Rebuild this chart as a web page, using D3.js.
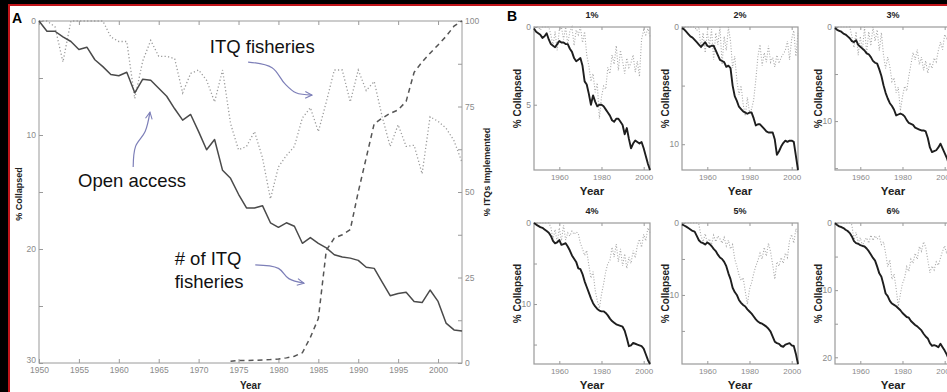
<!DOCTYPE html>
<html>
<head>
<meta charset="utf-8">
<script src="https://cdn.jsdelivr.net/npm/d3@7/dist/d3.min.js"></script>
<style>
  body { margin: 0; background: #000; }
  svg { display: block; font-family: "Liberation Sans", Arial, sans-serif; }
</style>
</head>
<body>
<svg id="chart" width="947" height="392"></svg>
<script>
// ---- panel A data (1950-2003) ----
const yearsA = d3.range(1950, 2004);
const openAccess = [
  0, 0.9, 0.9, 1.4, 1.8, 2.5, 2.3, 3.4, 4.0, 4.7,
  4.8, 4.5, 6.3, 5.1, 5.2, 5.9, 6.6, 7.7, 8.7, 8.2,
  9.7, 11.3, 10.4, 13.1, 13.8, 15.2, 16.4, 16.4, 16.2, 17.7,
  18.1, 17.7, 18.0, 19.5, 19.0, 19.5, 19.9, 20.5, 20.7, 20.8,
  21.0, 21.6, 21.7, 22.9, 24.1, 23.9, 23.8, 24.6, 24.7, 23.6,
  24.6, 26.5, 27.1, 27.2
];
const itqCollapsed = [
  0, 0, 0.5, 3.6, 0, 0, 0, 0, 0, 1.4,
  1.8, 1.8, 6.8, 3.5, 1.7, 3.1, 3.1, 3.3, 6.3, 4.6,
  4.3, 5.2, 7.1, 4.3, 9.0, 11.3, 11.0, 9.7, 12.0, 15.6,
  12.8, 11.8, 11.0, 8.5, 7.6, 9.7, 7.1, 4.3, 4.3, 7.1,
  4.3, 6.1, 5.3, 8.4, 11.0, 9.1, 11.0, 10.9, 13.4, 8.4,
  8.8, 9.4, 10.5, 12.4
];
// % of ITQs implemented, 1974-2003
const itqYears = d3.range(1974, 2004);
const itqImplemented = [
  0.5, 0.7, 0.7, 0.8, 0.9, 1.0, 1.2, 1.5, 2.0, 3.0,
  7.5, 13, 33, 36.5, 37.5, 39, 50, 60, 70, 71.6,
  73, 74, 76.5, 85, 88, 90.6, 93, 95.5, 98.5, 100
];

// ---- panel B data (1948-2003) ----
const yearsB = d3.range(1948, 2004);
const titlesB = ['1%', '2%', '3%', '4%', '5%', '6%'];
const solid1 = [
  0.1, 0.3, 0.4, 0.5, 0.7, 0.6, 0.4, 0.8, 1.1, 1.2,
  1.3, 1.1, 0.9, 1.0, 1.0, 1.1, 1.1, 1.4, 1.6, 2.0,
  2.2, 2.1, 2.0, 2.5, 3.5, 3.7, 4.3, 5.0, 4.4, 4.8,
  5.1, 5.0, 5.0, 5.1, 5.3, 5.5, 5.7, 6.0, 6.1, 5.9,
  5.9, 6.1, 6.3, 6.9, 6.5, 7.2, 7.8, 7.5, 7.3, 7.4,
  7.5, 7.4, 7.8, 8.3, 8.8, 9.2
];
const dotted1 = [
  0, 0, 0, 0.2, 0, 0, 0, 0, 0.5, 1.2,
  0.3, 1.5, 0.2, 0, 0.8, 0, 1.1, 0.3, 0, 1.2,
  0.2, 0.5, 0, 1.0, 0.3, 1.8, 2.5, 3.5, 3.0, 4.2,
  3.6, 5.9, 4.5, 3.8, 4.0, 2.6, 3.0, 1.8, 2.4, 1.2,
  2.8, 1.5, 2.2, 3.0, 2.0, 2.6, 2.3, 1.8, 2.9, 2.2,
  3.2, 0.8, 0.2, 0.5, 0.1, 0.6
];
const solid2 = [
  0.1, 0.2, 0.4, 0.6, 0.8, 0.9, 1.1, 1.3, 1.5, 1.7,
  1.5, 1.3, 1.6, 1.7, 1.6, 1.6, 2.0, 2.4, 2.8, 2.9,
  3.0, 3.4, 3.3, 3.5, 5.0, 5.9, 6.3, 6.8, 7.0, 7.2,
  7.3, 7.4, 7.3, 7.3, 7.8, 8.4, 8.3, 8.3, 8.5, 8.7,
  8.9, 9.0, 9.0, 9.0, 9.6, 10.9, 10.6, 10.2, 9.9, 9.7,
  9.8, 9.7, 9.7, 9.8, 11.0, 12.2
];
const dotted2 = [
  0, 0, 0, 0, 0, 0, 0, 0.3, 0, 1.8,
  0.5, 2.2, 0.4, 1.6, 0.2, 2.8, 0.5, 1.5, 0, 3.2,
  0.8, 2.0, 0, 1.2, 3.5, 2.5, 4.5, 5.8, 5.0, 6.6,
  7.6, 6.0, 7.3, 7.0, 6.2, 4.5, 2.5, 1.5, 3.3, 2.2,
  3.0, 1.6, 3.0, 2.6, 3.4, 2.4, 3.1, 2.6, 2.3, 2.0,
  1.2, 2.8, 1.0, 0.3, 2.5, 0.5
];
const solid3 = [
  0.1, 0.3, 0.4, 0.5, 0.7, 0.8, 1.0, 1.2, 1.5, 1.6,
  1.4, 1.9, 2.1, 2.3, 2.5, 2.8, 2.9, 3.2, 3.6, 3.8,
  3.9, 4.5, 5.2, 6.2, 7.0, 7.6, 8.1, 8.4, 8.8, 9.4,
  9.3, 9.2, 9.3, 9.5, 9.9, 10.2, 10.3, 10.4, 10.7, 10.8,
  10.9, 11.0, 11.0, 11.1, 11.8, 12.8, 13.3, 13.2, 13.1, 12.8,
  12.4, 12.9, 13.4, 13.9, 14.6, 15.2
];
const dotted3 = [
  0, 0, 0, 0, 0, 0, 0, 0, 1.0, 2.2,
  0.5, 3.0, 1.0, 2.5, 0, 2.8, 0.5, 2.0, 0, 1.5,
  0.3, 2.5, 0.6, 3.0, 4.4, 3.2, 4.2, 5.8, 5.4, 7.0,
  6.4, 8.9, 7.4, 6.3, 6.8, 5.2, 4.0, 2.7, 3.5, 2.4,
  4.0, 3.2, 4.6, 3.6, 4.9, 3.8, 4.4, 3.3, 3.7, 2.5,
  1.6, 2.4, 0.8, 1.2, 0.5, 1.0
];
const solid4 = [
  0, 0.2, 0.35, 0.5, 0.6, 0.8, 1.0, 1.2, 1.6, 2.2,
  2.5, 2.4, 2.1, 2.7, 2.6, 2.5, 2.9, 3.4, 4.0, 4.4,
  4.8, 5.6, 5.7, 6.3, 7.2, 7.9, 8.6, 9.3, 9.9, 10.3,
  10.6, 10.8, 10.9, 10.9, 11.1, 11.4, 11.8, 12.1, 12.3, 12.5,
  12.6, 12.7, 12.8, 13.3, 14.2, 15.2, 15.1, 14.8, 14.9, 15.0,
  15.1, 15.2, 15.5, 16.2, 16.9, 17.4
];
const dotted4 = [
  0, 0, 0, 0, 0, 0, 0, 0, 0.5, 2.0,
  0.8, 2.4, 0.6, 2.2, 0.3, 2.1, 1.2, 1.6, 1.0, 1.4,
  1.1, 1.3, 2.5, 3.2, 4.0, 3.4, 5.2, 6.8, 6.0, 8.3,
  9.6, 10.5, 8.8, 7.5, 6.0, 5.0, 4.6, 3.0, 4.2, 2.6,
  4.8, 3.2, 5.3, 3.8, 5.6, 4.2, 5.0, 3.4, 4.3, 2.8,
  2.0, 3.0, 1.4, 2.2, 0.6, 1.2
];
const solid5 = [
  0.2, 0.35, 0.5, 0.7, 0.9, 1.1, 1.2, 1.8, 2.4, 2.7,
  2.8, 3.0, 2.7, 2.9, 3.2, 3.6, 3.9, 4.4, 4.8, 5.0,
  5.4, 6.0, 7.0, 7.8, 9.0, 9.6, 10.0, 10.7, 11.1, 11.4,
  11.6, 12.0, 12.3, 12.6, 13.0, 13.4, 13.7, 13.9, 14.0, 14.2,
  14.4, 14.7, 15.1, 15.8, 16.5, 16.7, 16.8, 17.1, 17.2, 16.9,
  16.8, 16.7, 17.0, 17.1, 18.2, 19.6
];
const dotted5 = [
  0, 0, 0, 0, 0, 0, 0, 0, 0.2, 1.8,
  2.6, 1.5, 2.8, 2.2, 3.0, 1.7, 2.6, 1.8, 2.2, 2.8,
  2.0, 3.2, 2.4, 3.6, 3.0, 5.0, 6.0, 7.2, 8.0, 7.6,
  9.5, 11.3, 9.2, 8.3, 7.0, 6.0, 5.2, 4.2, 5.0, 3.4,
  4.6, 2.8, 4.0, 5.8, 7.8, 5.4, 6.0, 4.8, 5.6, 4.2,
  4.8, 2.4, 1.6, 2.8, 0.8, 1.5
];
const solid6 = [
  0.05, 0.3, 0.5, 0.6, 0.75, 1.0, 1.2, 1.5, 2.0, 2.7,
  3.0, 3.1, 3.3, 3.4, 3.5, 3.8, 4.2, 4.7, 5.2, 5.6,
  6.5, 7.5, 8.0, 9.2, 10.5, 10.9, 11.6, 12.0, 12.2, 12.4,
  12.7, 13.0, 13.4, 13.7, 14.0, 14.1, 14.6, 14.9, 15.2, 15.4,
  15.7, 16.0, 16.5, 16.9, 17.2, 17.9, 18.3, 18.2, 18.3, 18.5,
  18.0, 18.5, 19.0, 19.6, 20.3, 21.0
];
const dotted6 = [
  0, 0, 0, 0, 0, 0, 0, 0, 0.3, 2.5,
  1.4, 3.0, 2.2, 3.4, 2.6, 2.2, 3.0, 1.8, 2.6, 1.9,
  2.4, 2.0, 3.2, 2.8, 4.5, 6.5, 5.5, 8.4, 7.6, 9.8,
  12.4, 10.6, 9.0, 8.2, 6.5, 7.2, 5.4, 6.0, 4.5, 5.4,
  3.5, 4.2, 2.8, 3.6, 5.5, 7.4, 6.4, 7.0, 5.8, 6.3,
  5.2, 4.2, 3.4, 4.6, 2.7, 3.2
];

const solidB = [solid1, solid2, solid3, solid4, solid5, solid6];
const dottedB = [dotted1, dotted2, dotted3, dotted4, dotted5, dotted6];

const svg = d3.select('#chart');
const axisGray = '#9a9a9a';
const labelGray = '#8a8a8a';

// frame: black edge, red rule, white page
svg.append('rect').attr('width', 947).attr('height', 392).attr('fill', '#000');
svg.append('rect').attr('x', 8).attr('y', 4).attr('width', 939).attr('height', 388).attr('fill', '#c0141a');
svg.append('rect').attr('x', 10).attr('y', 6).attr('width', 937).attr('height', 386).attr('fill', '#fff');

// arrowhead for annotations
svg.append('defs').append('marker')
  .attr('id', 'arrow')
  .attr('viewBox', '0 0 10 10')
  .attr('refX', 9).attr('refY', 5)
  .attr('markerWidth', 7).attr('markerHeight', 7)
  .attr('orient', 'auto')
  .append('path')
  .attr('d', 'M1,1 L9,5 L1,9')
  .attr('fill', 'none')
  .attr('stroke', '#7d7fb8')
  .attr('stroke-width', 1.3);

function styleAxis(g, fontSize) {
  g.select('.domain').remove();
  g.selectAll('.tick line').attr('stroke', axisGray);
  g.selectAll('.tick text')
    .attr('fill', labelGray)
    .attr('font-size', fontSize)
    .attr('font-family', '"Liberation Sans", Arial, sans-serif');
}

// ================= panel A =================
const A = {left: 39, right: 462, top: 21, bottom: 363};
const xA = d3.scaleLinear().domain([1950, 2003]).range([A.left, A.right]);
const yA = d3.scaleLinear().domain([0, 30]).range([A.top, A.bottom]);
const yR = d3.scaleLinear().domain([0, 100]).range([A.bottom, A.top]);
const gA = svg.append('g');

gA.append('rect')
  .attr('x', A.left).attr('y', A.top)
  .attr('width', A.right - A.left).attr('height', A.bottom - A.top)
  .attr('fill', 'none').attr('stroke', axisGray).attr('stroke-width', 1);

const yearTicksA = d3.range(1950, 2001, 5);
gA.append('g')
  .attr('transform', `translate(0, ${A.bottom})`)
  .call(d3.axisBottom(xA).tickValues(yearTicksA).tickFormat(d3.format('d')).tickSizeInner(-4).tickSizeOuter(0).tickPadding(4))
  .call(g => styleAxis(g, 8.5));
gA.append('g')
  .attr('transform', `translate(0, ${A.top})`)
  .call(d3.axisTop(xA).tickValues(yearTicksA).tickFormat('').tickSizeInner(-4).tickSizeOuter(0))
  .call(g => styleAxis(g, 8.5));
gA.append('g')
  .attr('transform', `translate(${A.left}, 0)`)
  .call(d3.axisLeft(yA).tickValues(d3.range(0, 31, 5)).tickFormat(d => d % 10 === 0 ? d : '').tickSizeInner(-4).tickSizeOuter(0).tickPadding(3))
  .call(g => styleAxis(g, 8.5))
  .call(g => g.selectAll('.tick text').filter(d => d === 30).attr('dy', '-0.05em'));
gA.append('g')
  .attr('transform', `translate(${A.right}, 0)`)
  .call(d3.axisRight(yR).tickValues(d3.range(0, 101, 12.5)).tickFormat(d => d % 25 === 0 ? d : '').tickSizeInner(-4).tickSizeOuter(0).tickPadding(3))
  .call(g => styleAxis(g, 8.5));

const lineA = d3.line().x(d => xA(d[0])).y(d => yA(d[1]));
gA.append('path')
  .datum(d3.zip(yearsA, itqCollapsed))
  .attr('d', lineA)
  .attr('fill', 'none')
  .attr('stroke', '#9a9a9a')
  .attr('stroke-width', 1.3)
  .attr('stroke-dasharray', '1.2,2.3');
gA.append('path')
  .datum(d3.zip(yearsA, openAccess))
  .attr('d', lineA)
  .attr('fill', 'none')
  .attr('stroke', '#4a4a4a')
  .attr('stroke-width', 1.5)
  .attr('stroke-linejoin', 'round');
gA.append('path')
  .datum(d3.zip(itqYears, itqImplemented))
  .attr('d', d3.line().x(d => xA(d[0])).y(d => yR(d[1])))
  .attr('fill', 'none')
  .attr('stroke', '#555')
  .attr('stroke-width', 1.5)
  .attr('stroke-dasharray', '5,4');

// annotations (placed in data units of the left axis)
const noteLine = d3.line().x(d => xA(d[0])).y(d => yA(d[1])).curve(d3.curveCatmullRom);
const notes = [
  {text: ['ITQ fisheries'], at: [1971.4, 2.8], arrow: [[1976.2, 3.6], [1979.2, 4.1], [1980.8, 5.5], [1982.2, 6.3], [1984.2, 6.5]]},
  {text: ['Open access'], at: [1954.9, 14.6], arrow: [[1961.8, 12.8], [1962.1, 11.0], [1963.3, 9.7], [1963.9, 8.0]]},
  {text: ['# of ITQ', 'fisheries'], at: [1967.0, 21.4], arrow: [[1977.1, 21.4], [1980.0, 21.7], [1981.3, 22.6], [1983.2, 23.0]]}
];
notes.forEach(n => {
  const t = gA.append('text')
    .attr('x', xA(n.at[0]))
    .attr('y', yA(n.at[1]))
    .attr('font-size', 18.5)
    .attr('fill', '#111');
  n.text.forEach((s, i) => t.append('tspan').attr('x', xA(n.at[0])).attr('dy', i ? 23 : 0).text(s));
  gA.append('path')
    .datum(n.arrow)
    .attr('d', noteLine)
    .attr('fill', 'none')
    .attr('stroke', '#7d7fb8')
    .attr('stroke-width', 1.2)
    .attr('marker-end', 'url(#arrow)');
});

gA.append('text').attr('x', 12).attr('y', 23).attr('font-size', 14).attr('font-weight', 'bold').text('A');
gA.append('text')
  .attr('transform', `translate(22, ${(A.top + A.bottom) / 2 + 2}) rotate(-90)`)
  .attr('text-anchor', 'middle').attr('font-size', 9).attr('font-weight', 'bold').attr('fill', '#222')
  .text('% Collapsed');
gA.append('text')
  .attr('transform', `translate(490, 172) rotate(-90)`)
  .attr('text-anchor', 'middle').attr('font-size', 9).attr('font-weight', 'bold').attr('fill', '#222')
  .text('% ITQs Implemented');
gA.append('text')
  .attr('x', (A.left + A.right) / 2).attr('y', 389)
  .attr('text-anchor', 'middle').attr('font-size', 10).attr('font-weight', 'bold').attr('fill', '#222')
  .text('Year');

// ================= panel B =================
svg.append('text').attr('x', 507).attr('y', 21).attr('font-size', 14).attr('font-weight', 'bold').text('B');

const colLeft = [534, 682, 835];
const rowTop = [27, 223];
const rowBottom = [170, 364];
const panelW = 116;

titlesB.forEach((title, i) => {
  const col = i % 3, row = Math.floor(i / 3);
  const left = colLeft[col], right = left + panelW;
  const top = rowTop[row], bottom = rowBottom[row];
  const solid = solidB[i], dotted = dottedB[i];

  const x = d3.scaleLinear().domain(d3.extent(yearsB)).range([left, right]);
  const y = d3.scaleLinear().domain([0, d3.max(solid)]).range([top, bottom]);
  const labelStep = i === 0 ? 5 : 10;
  const g = svg.append('g');

  g.append('rect')
    .attr('x', left).attr('y', top)
    .attr('width', panelW).attr('height', bottom - top)
    .attr('fill', 'none').attr('stroke', axisGray).attr('stroke-width', 1.2);

  g.append('g')
    .attr('transform', `translate(0, ${bottom})`)
    .call(d3.axisBottom(x).tickValues([1960, 1980, 2000]).tickFormat(d3.format('d')).tickSizeInner(-3).tickSizeOuter(0).tickPadding(4))
    .call(a => styleAxis(a, 8));
  g.append('g')
    .attr('transform', `translate(0, ${top})`)
    .call(d3.axisTop(x).tickValues([1960, 1980, 2000]).tickFormat('').tickSizeInner(-3).tickSizeOuter(0))
    .call(a => styleAxis(a, 8));
  g.append('g')
    .attr('transform', `translate(${left}, 0)`)
    .call(d3.axisLeft(y).tickValues(d3.range(0, d3.max(solid) + 0.01, 5)).tickFormat(d => d % labelStep === 0 ? d : '').tickSizeInner(-3).tickSizeOuter(0).tickPadding(3))
    .call(a => styleAxis(a, 8.5));

  const line = d3.line().x((d, k) => x(yearsB[k])).y(d => y(d));
  g.append('path')
    .datum(dotted)
    .attr('d', line)
    .attr('fill', 'none')
    .attr('stroke', '#a8a8a8')
    .attr('stroke-width', 1.1)
    .attr('stroke-dasharray', '1,1.8');
  g.append('path')
    .datum(solid)
    .attr('d', line)
    .attr('fill', 'none')
    .attr('stroke', '#1e1e1e')
    .attr('stroke-width', 1.9)
    .attr('stroke-linejoin', 'round');

  g.append('text')
    .attr('x', left + panelW / 2).attr('y', top - 9)
    .attr('text-anchor', 'middle').attr('font-size', 9).attr('font-weight', 'bold').attr('fill', '#222')
    .text(title);
  g.append('text')
    .attr('x', left + panelW / 2).attr('y', bottom + 25)
    .attr('text-anchor', 'middle').attr('font-size', 11.5).attr('font-weight', 'bold').attr('fill', '#222')
    .text('Year');
  g.append('text')
    .attr('transform', `translate(${left - 13}, ${(top + bottom) / 2}) rotate(-90)`)
    .attr('text-anchor', 'middle').attr('font-size', 10).attr('font-weight', 'bold').attr('fill', '#222')
    .text('% Collapsed');
});
</script>
</body>
</html>
